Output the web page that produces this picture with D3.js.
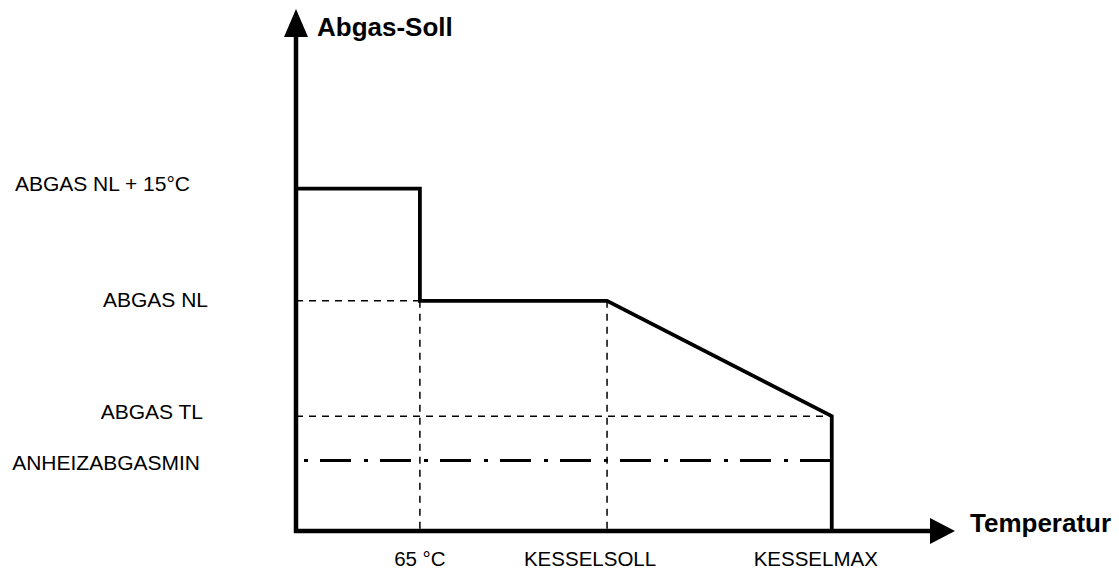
<!DOCTYPE html>
<html>
<head>
<meta charset="utf-8">
<script src="https://cdn.jsdelivr.net/npm/d3@7"></script>
<style>
  body { margin: 0; background: #fff; }
  svg { display: block; font-family: "Liberation Sans", Arial, sans-serif; }
</style>
</head>
<body>
<svg width="1119" height="571"></svg>
<script>
        // Chart data (abstract units)
        var xTickLabels = ["65 °C", "KESSELSOLL", "KESSELMAX"];
        var xTickValues = [18.8, 47.2, 81.3];

        var yLevelLabels = ["ABGAS NL + 15°C", "ABGAS NL", "ABGAS TL", "ANHEIZABGASMIN"];
        var yLevelValues = [65.6, 44.1, 22.0, 13.5];

        // Abgas-Soll curve
        var curveX = [0, 18.8, 18.8, 47.2, 81.3, 81.3];
        var curveY = [65.6, 65.6, 44.1, 44.1, 22.0, 0];

        // label nudges (layout only)
        var xLabelShift = [0, -17, -16];
        var yLabelRight = [190, 208, 203, 200];
        var yLabelShift = [2, 6, 3, 9];

        var svg = d3.select("svg");

        var xScale = d3.scaleLinear().domain([0, 100]).range([296, 955]);
        var yScale = d3.scaleLinear().domain([0, 100]).range([531, 9]);

        var x0 = xScale(0), y0 = yScale(0);

        // Dashed helper lines
        var guides = [
            [0, yLevelValues[1], xTickValues[0], yLevelValues[1]],
            [0, yLevelValues[2], xTickValues[2], yLevelValues[2]],
            [xTickValues[0], yLevelValues[1], xTickValues[0], 0],
            [xTickValues[1], yLevelValues[1], xTickValues[1], 0]
        ];
        svg.selectAll(".guide")
            .data(guides)
            .enter()
            .append("line")
            .attr("class", "guide")
            .attr("x1", function(d) { return xScale(d[0]); })
            .attr("y1", function(d) { return yScale(d[1]); })
            .attr("x2", function(d) { return xScale(d[2]); })
            .attr("y2", function(d) { return yScale(d[3]); })
            .attr("stroke", "#000")
            .attr("stroke-width", 1.5)
            .attr("stroke-dasharray", "7,6");

        // Dash-dot line (ANHEIZABGASMIN)
        svg.append("line")
            .attr("x1", x0 + 8)
            .attr("x2", xScale(xTickValues[2]))
            .attr("y1", yScale(yLevelValues[3]))
            .attr("y2", yScale(yLevelValues[3]))
            .attr("stroke", "#000")
            .attr("stroke-width", 3)
            .attr("stroke-dasharray", "4,12,31,13");

        // Curve
        var line = d3.line()
            .x(function(d) { return xScale(d[0]); })
            .y(function(d) { return yScale(d[1]); });

        svg.append("path")
            .datum(curveX.map(function(v, i) { return [v, curveY[i]]; }))
            .attr("d", line)
            .attr("fill", "none")
            .attr("stroke", "#000")
            .attr("stroke-width", 3.8)
            .attr("stroke-linejoin", "miter");

        // Axes with arrows
        svg.append("line")
            .attr("x1", x0).attr("y1", y0 + 2)
            .attr("x2", x0).attr("y2", 36)
            .attr("stroke", "#000").attr("stroke-width", 4.5);
        svg.append("path")
            .attr("d", "M" + (x0 - 12) + ",37 L" + x0 + ",9 L" + (x0 + 12) + ",37 Z")
            .attr("fill", "#000");

        svg.append("line")
            .attr("x1", x0 - 2).attr("y1", y0)
            .attr("x2", 931).attr("y2", y0)
            .attr("stroke", "#000").attr("stroke-width", 4.5);
        svg.append("path")
            .attr("d", "M930," + (y0 - 13) + " L955," + y0 + " L930," + (y0 + 13) + " Z")
            .attr("fill", "#000");

        // Axis titles
        svg.append("text")
            .attr("x", 317)
            .attr("y", 36)
            .attr("font-size", "26px")
            .attr("font-weight", "bold")
            .text("Abgas-Soll");

        svg.append("text")
            .attr("x", 970)
            .attr("y", 532)
            .attr("font-size", "26px")
            .attr("font-weight", "bold")
            .text("Temperatur");

        // Y level labels
        svg.selectAll(".ylab")
            .data(yLevelLabels)
            .enter()
            .append("text")
            .attr("class", "ylab")
            .attr("x", function(d, i) { return yLabelRight[i]; })
            .attr("y", function(d, i) { return yScale(yLevelValues[i]) + yLabelShift[i]; })
            .attr("text-anchor", "end")
            .attr("font-size", "21px")
            .text(function(d) { return d; });

        // X tick labels
        svg.selectAll(".xlab")
            .data(xTickLabels)
            .enter()
            .append("text")
            .attr("class", "xlab")
            .attr("x", function(d, i) { return xScale(xTickValues[i]) + xLabelShift[i]; })
            .attr("y", 566)
            .attr("text-anchor", "middle")
            .attr("font-size", "20.5px")
            .text(function(d) { return d; });
</script>
</body>
</html>
